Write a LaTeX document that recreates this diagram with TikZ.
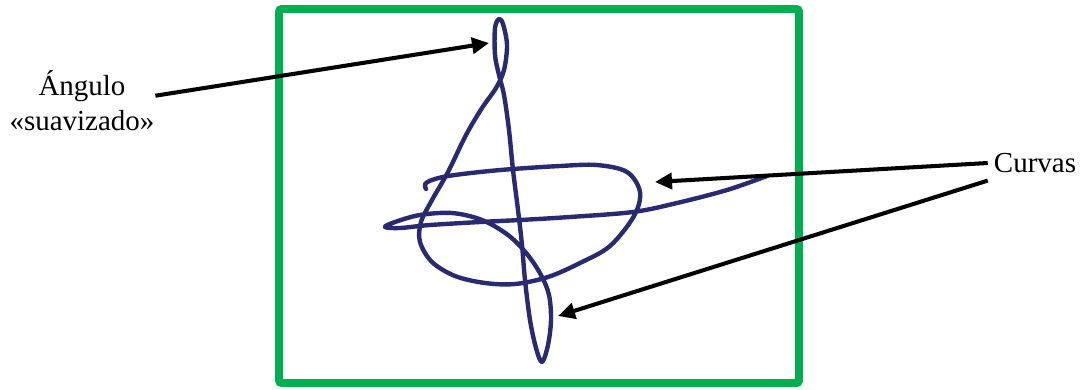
\documentclass[tikz,border=0pt]{standalone}
\usepackage{fontspec}
\setmainfont{Liberation Serif}
\usepackage{xcolor}
\usetikzlibrary{arrows.meta}
\definecolor{boxgreen}{HTML}{00B050}
\definecolor{ink}{HTML}{2A2A72}

\begin{document}
\begin{tikzpicture}[x=0.02cm, y=-0.02cm,
  lbl/.style={align=center, font=\fontsize{16.5}{20}\selectfont},
  pointer/.style={-{Triangle[length=3.4mm,width=3.2mm]}, line width=2.3pt, black}]
\useasboundingbox (0,0) rectangle (1082,389);
\draw[boxgreen, line width=4.5pt, rounded corners=1.5pt] (279,9) rectangle (799,383);
\draw[ink, line width=2.5pt, line cap=round, line join=round] plot[smooth, tension=0.55] coordinates {
  (426,189) (425,184) (432,180) (448,176) (480,172) (513,169) (560,166) (597,165)
  (627,172) (640,192) (634,216) (610,246) (580,263) (548,277) (515,284) (485,283)
  (455,276) (432,262) (420,242) (421,222) (432,200) (448,172) (466,135) (482,108)
  (496,88) (504,70) (507,45) (503,24) (499,19) (495,28) (495,55) (499,75) (504,95)
  (509,130) (513,170) (518,210) (522,245) (525,280) (530,320) (536,348) (542,362)
  (548,345) (551,320) (549,295) (541,275) (527,254) (508,235) (482,220) (452,213)
  (420,215) (395,222) (385,227) (400,228) (430,225) (480,222) (520,220) (570,217)
  (633,212) (677,203) (727,190) (767,176)};
\node[lbl] (angulo) at (82,101) {Ángulo\\«suavizado»};
\node[lbl] (curvas) at (1035,163) {Curvas};
\coordinate (loopTip) at (489,43);
\coordinate (ovalTip) at (655,182);
\coordinate (lowTip) at (558,316);
\draw[pointer] ([yshift=3pt,xshift=-3pt]angulo.east) -- (loopTip);
\draw[pointer] (curvas.west) -- (ovalTip);
\draw[pointer] ([yshift=-10pt]curvas.west) -- (lowTip);
\end{tikzpicture}
\end{document}
